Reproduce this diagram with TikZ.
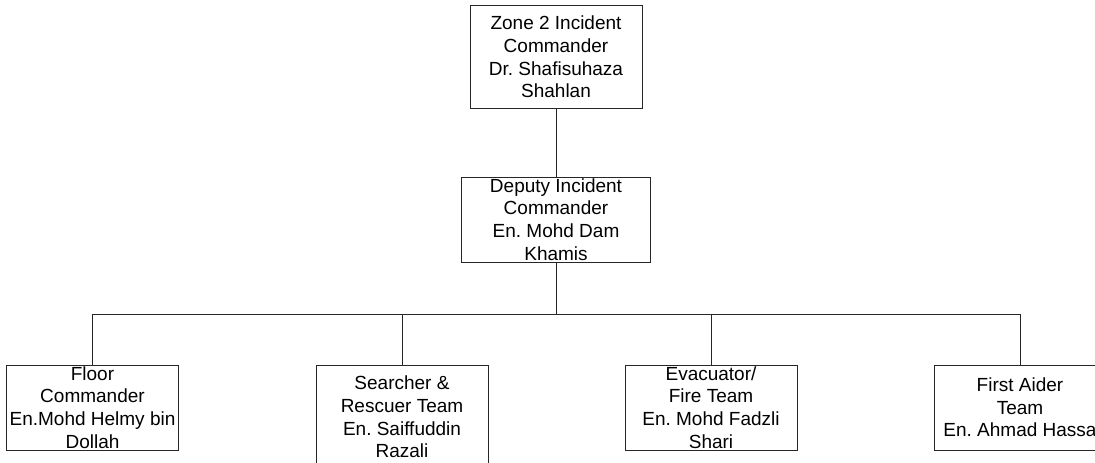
\documentclass[tikz,border=0pt]{standalone}
\usepackage{fontspec}
\setmainfont{Liberation Sans}
\frenchspacing
\tikzset{
  orgbox/.style={draw=black!85, line width=0.65pt, rectangle, inner sep=0pt, align=center,
    minimum width=129pt, minimum height=63.8pt,
    font=\fontsize{14.25}{17}\selectfont},
  tallbox/.style={orgbox, minimum height=77pt},
  widebox/.style={orgbox, minimum width=141.4pt},
  link/.style={draw=black!85, line width=0.65pt}
}
\begin{document}
\begin{tikzpicture}[x=0.75pt,y=-0.75pt]
\useasboundingbox (0,0) rectangle (1095,463);
\clip (0,0) rectangle (1095,463);
\node[tallbox] (zone) at (556,57) {Zone 2 Incident\\Commander\\Dr. Shafisuhaza\\Shahlan};
\node[widebox] (deputy) at (556,219.5) {Deputy Incident\\Commander\\En. Mohd Dam\\Khamis};
\coordinate (bus) at (556,314);
\node[orgbox] (floor) at (92.5,407.5) {Floor\\Commander\\En.Mohd Helmy bin\\Dollah};
\node[tallbox] (search) at (402,417) {Searcher \&\\Rescuer Team\\En. Saiffuddin\\Razali};
\node[orgbox] (evac) at (711,407.5) {Evacuator/\\Fire Team\\En. Mohd Fadzli\\Shari};
\node[orgbox] (aider) at (1020,407.5) {First Aider\\Team\\En. Ahmad Hassa};
\draw[link] (zone) -- (deputy);
\draw[link] (deputy) -- (bus);
\draw[link] (floor.north) |- (bus);
\draw[link] (search.north) |- (bus);
\draw[link] (evac.north) |- (bus);
\draw[link] (aider.north) |- (bus);
\end{tikzpicture}
\end{document}
